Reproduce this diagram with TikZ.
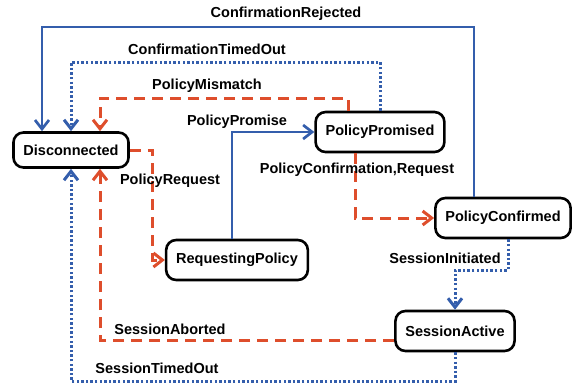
\documentclass[tikz,border=0pt]{standalone}
\usepackage{fontspec}
\setmainfont{Liberation Sans}
\usepackage{tikz}
\usetikzlibrary{arrows.meta, positioning, calc}
\definecolor{arcblue}{RGB}{52,94,172}
\definecolor{arcred}{RGB}{222,78,44}

\begin{document}
\begin{tikzpicture}[
    x=1pt, y=-1pt,
    statebox/.style={draw, line width=2.6pt, rounded corners=10pt, inner xsep=10pt,
        minimum height=40pt, font=\fontsize{14.5}{17}\selectfont\bfseries},
    arclabel/.style={font=\fontsize{14.5}{17}\selectfont\bfseries, inner sep=1pt},
    arctip/.style={-{Straight Barb[length=9pt,width=14pt]}},
    solidarc/.style={arctip, draw=arcblue, line width=2.7pt},
    dotarc/.style={arctip, draw=arcblue, line width=3pt, dash pattern=on 2.4pt off 2.2pt},
    dasharc/.style={arctip, draw=arcred, line width=3pt, dash pattern=on 11pt off 7pt}
]
    \useasboundingbox (0,0) rectangle (580,386);

    % States
    \node[statebox, minimum height=35pt] (dis) at (71,150) {Disconnected};
    \node[statebox] (prom) at (380,132) {PolicyPromised};
    \node[statebox] (req) at (237,260) {RequestingPolicy};
    \node[statebox] (confd) at (503,218) {PolicyConfirmed};
    \node[statebox] (act) at (455,331) {SessionActive};

    % Transitions
    \draw[solidarc] ([xshift=-29pt]confd.north) |- (42,27) -- ([xshift=-29pt]dis.north);
    \draw[dotarc] (prom.north) |- (71,62) -- (dis.north);
    \draw[dasharc] ([xshift=-32pt]prom.north) |- (100,98) -- ([xshift=29pt]dis.north);
    \draw[solidarc] ([xshift=-5pt]req.north) |- (prom.west);
    \draw[dasharc] (dis.east) -- ++(23,0) |- (req.west);
    \draw[dasharc] ([xshift=-25pt]prom.south) |- (confd.west);
    \draw[dotarc] ([xshift=5pt]confd.south) |- (455,270) -- (act.north);
    \draw[dasharc] ([yshift=-9pt]act.west) -| ([xshift=29pt]dis.south);
    \draw[dotarc] (act.south) |- (71,381) -- (dis.south);

    % Labels
    \node[arclabel] (lrej) at (286,14) {ConfirmationRejected};
    \node[arclabel] (ltout) at (207,49) {ConfirmationTimedOut};
    \node[arclabel] (lmis) at (207,86) {PolicyMismatch};
    \node[arclabel] (lpro) at (237,122) {PolicyPromise};
    \node[arclabel] (lreq) at (170,181) {PolicyRequest};
    \node[arclabel] (lconf) at (357,170) {PolicyConfirmation,Request};
    \node[arclabel] (lini) at (445,258) {SessionInitiated};
    \node[arclabel] (labo) at (170,329) {SessionAborted};
    \node[arclabel] (lsto) at (157,368) {SessionTimedOut};
\end{tikzpicture}
\end{document}
